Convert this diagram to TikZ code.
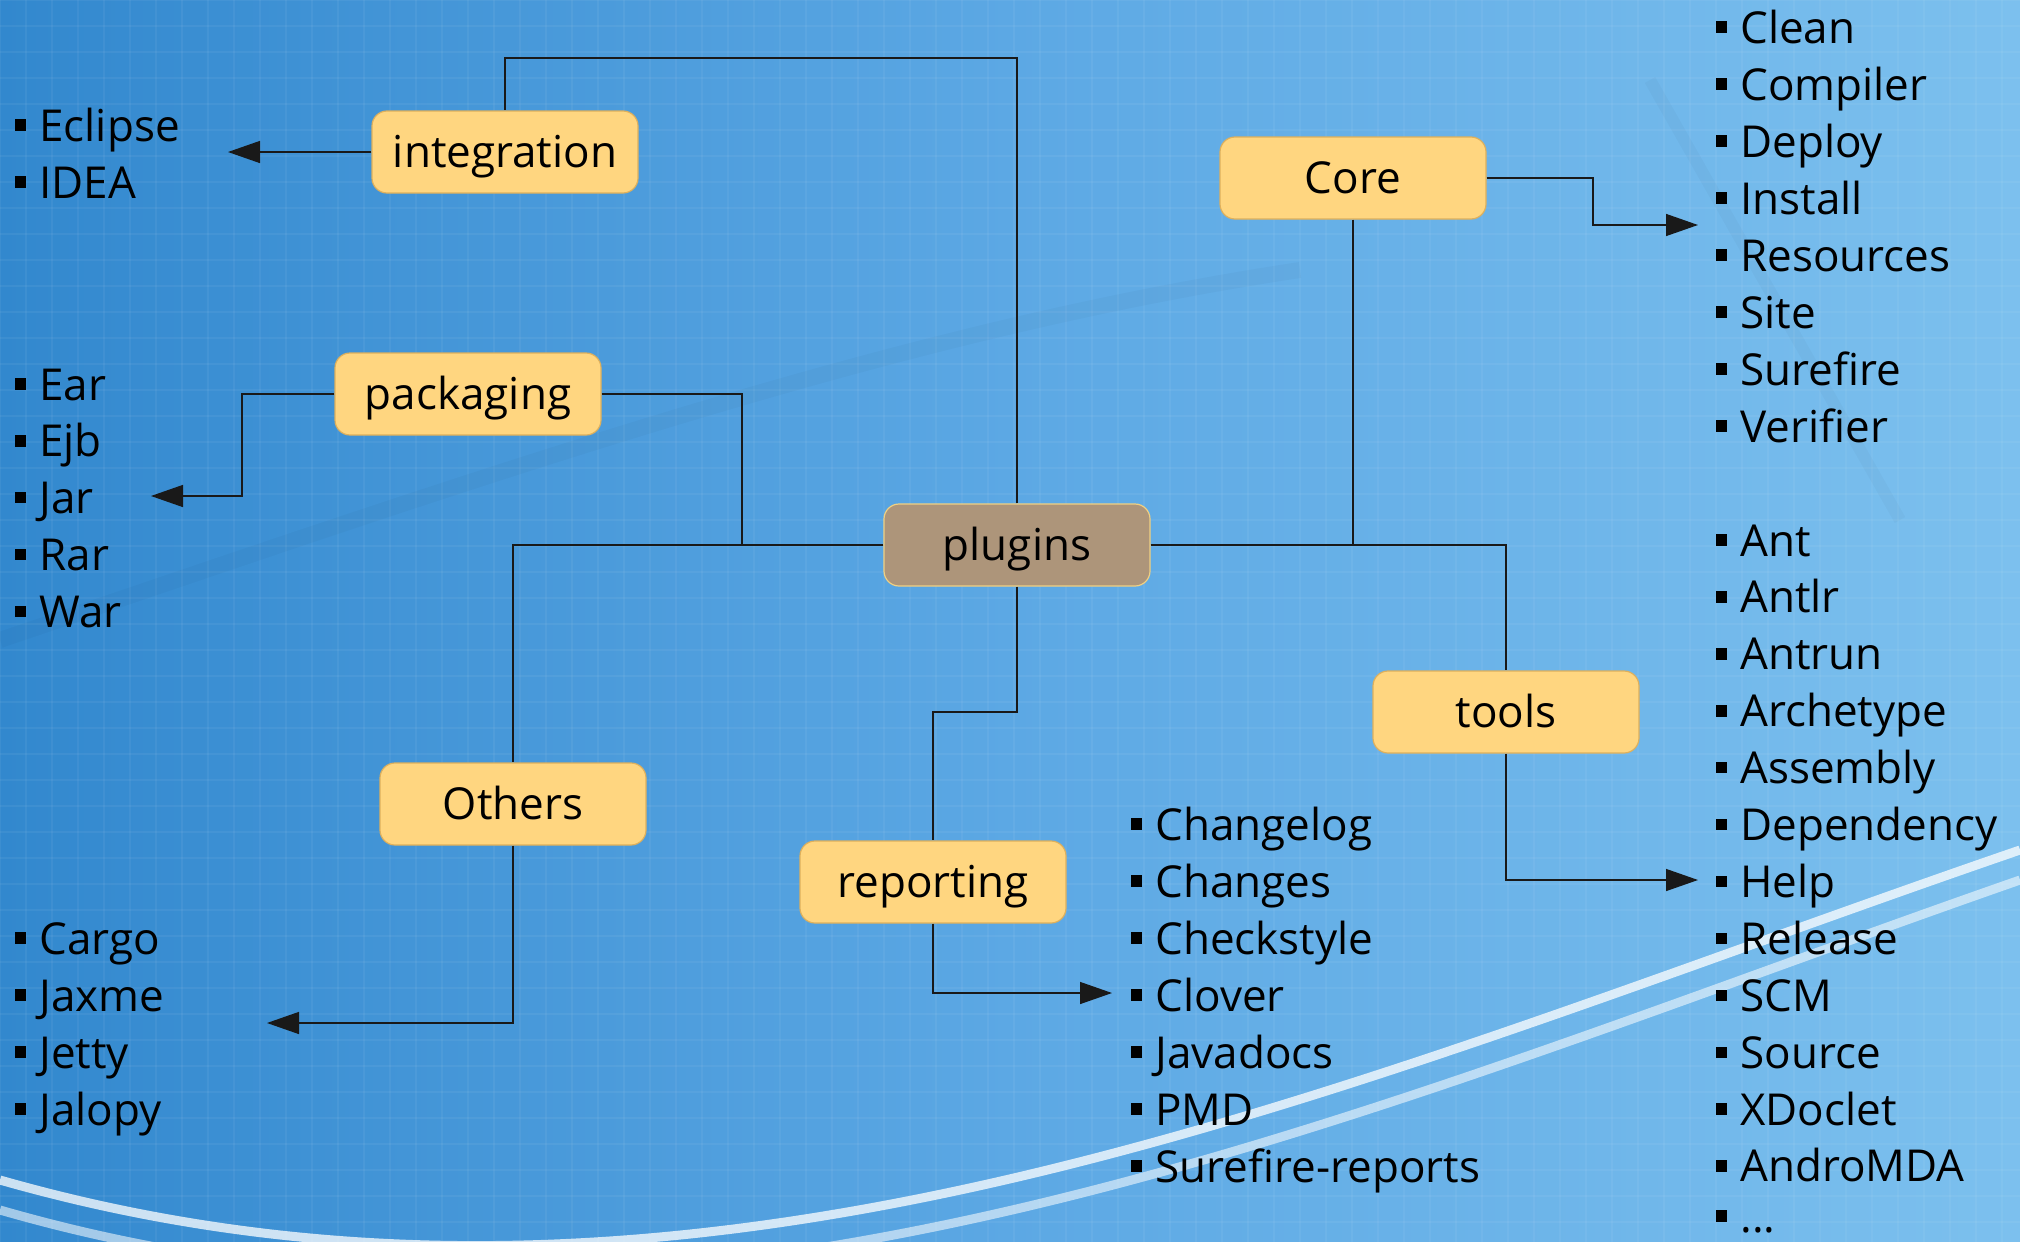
\documentclass[tikz,border=0pt]{standalone}
\usepackage{fontspec}
\setmainfont{Open Sans}
\usetikzlibrary{arrows.meta}

\definecolor{bgleft}{RGB}{50,136,206}
\definecolor{bgmid}{RGB}{92,168,228}
\definecolor{bgright}{RGB}{124,192,238}
\definecolor{boxfill}{RGB}{255,214,128}
\definecolor{boxline}{RGB}{222,176,92}
\definecolor{hubfill}{RGB}{173,149,122}
\definecolor{hubline}{RGB}{240,208,130}

% square bullet hung to the left of a list entry
\newcommand\itembullet{\llap{\rule[0.23em]{0.26em}{0.26em}\hspace{0.3em}}}

\begin{document}
\begin{tikzpicture}[x=0.5pt,y=-0.5pt,
  every node/.style={font=\fontsize{22}{26}\selectfont},
  cat/.style={draw=boxline, line width=0.6pt, fill=boxfill, rounded corners=7.5pt,
    minimum width=133pt, minimum height=41pt, inner sep=0pt,
    text height=20.2pt, text depth=4.4pt},
  hub/.style={cat, fill=hubfill, draw=hubline},
  conn/.style={draw=black!90, line width=0.7pt},
  tip/.style={conn, -{Triangle[length=16pt,width=11pt]}},
  entry/.style={anchor=base west, inner sep=0pt}
]
% ---------- background ----------
\useasboundingbox (0,0) rectangle (2020,1242);
\shade[left color=bgleft, right color=bgright, middle color=bgmid] (0,0) rectangle (2020,1242);
\foreach \g in {0,26,...,2020} \draw[white, opacity=0.05, line width=0.6pt] (\g,0) -- (\g,1242);
\foreach \g in {0,26,...,1242} \draw[white, opacity=0.05, line width=0.6pt] (0,\g) -- (2020,\g);
% faint diagonal streaks
\draw[black, opacity=0.025, line width=8pt] (0,640) .. controls (500,470) and (900,330) .. (1300,270);
\draw[black, opacity=0.025, line width=6pt] (1650,80) -- (1900,520);
% white swooshes near the bottom
\draw[white, opacity=0.75, line width=4.5pt] (0,1180) .. controls (700,1380) and (1350,1080) .. (2020,850);
\draw[white, opacity=0.55, line width=4.5pt] (0,1210) .. controls (700,1412) and (1360,1110) .. (2020,880);

% ---------- category boxes ----------
\node[hub] (plugins) at (1017,545) {plugins};
\node[cat] (integration) at (505,152) {integration};
\node[cat] (packaging) at (468,394) {packaging};
\node[cat] (core) at (1353,178) {Core};
\node[cat] (tools) at (1506,712) {tools};
\node[cat] (others) at (513,804) {Others};
\node[cat] (reporting) at (933,882) {reporting};

% ---------- bend points and arrow ends ----------
\coordinate (itop) at (505,58);
\coordinate (iarr) at (228,152);
\coordinate (pkjoin) at (742,545);
\coordinate (pkbend) at (242,496);
\coordinate (pkarr) at (151,496);
\coordinate (oarr) at (267,1023);
\coordinate (pmid) at (1017,712);
\coordinate (rarr) at (1112,993);
\coordinate (cjoin) at (1353,545);
\coordinate (cbend) at (1593,225);
\coordinate (carr) at (1698,225);
\coordinate (tarr) at (1698,880);

% ---------- connectors ----------
\draw[conn] (plugins.north) |- (itop) -- (integration.north);
\draw[tip] (integration.west) -- (iarr);
\draw[conn] (packaging.east) -| (pkjoin);
\draw[tip] (packaging.west) -| (pkbend) -- (pkarr);
\draw[conn] (plugins.west) -| (others.north);
\draw[tip] (others.south) |- (oarr);
\draw[conn] (plugins.south) -- (pmid) -| (reporting.north);
\draw[tip] (reporting.south) |- (rarr);
\draw[conn] (plugins.east) -| (tools.north);
\draw[conn] (core.south) -- (cjoin);
\draw[tip] (core.east) -| (cbend) -- (carr);
\draw[tip] (tools.south) |- (tarr);

% ---------- item lists ----------
\foreach \t [count=\i from 0] in {Eclipse,IDEA}
  \node[entry] (int\i) at (39,{141+57*\i}) {\itembullet\t};
\foreach \t [count=\i from 0] in {Ear,Ejb,Jar,Rar,War}
  \node[entry] (pkg\i) at (39,{400+56.8*\i}) {\itembullet\t};
\foreach \t [count=\i from 0] in {Cargo,Jaxme,Jetty,Jalopy}
  \node[entry] (oth\i) at (39,{954+57*\i}) {\itembullet\t};
\foreach \t [count=\i from 0] in {Changelog,Changes,Checkstyle,Clover,Javadocs,PMD,Surefire-reports}
  \node[entry] (rep\i) at (1155,{840+57*\i}) {\itembullet\t};
\foreach \t [count=\i from 0] in {Clean,Compiler,Deploy,Install,Resources,Site,Surefire,Verifier}
  \node[entry] (cor\i) at (1740,{43+57*\i}) {\itembullet\t};
\foreach \t [count=\i from 0] in {Ant,Antlr,Antrun,Archetype,Assembly,Dependency,Help,Release,SCM,Source,XDoclet,AndroMDA}
  \node[entry] (tool\i) at (1740,{556+56.9*\i}) {\itembullet\t};
\node[entry] (toolmore) at (1740,1232) {\itembullet...};
\end{tikzpicture}
\end{document}
